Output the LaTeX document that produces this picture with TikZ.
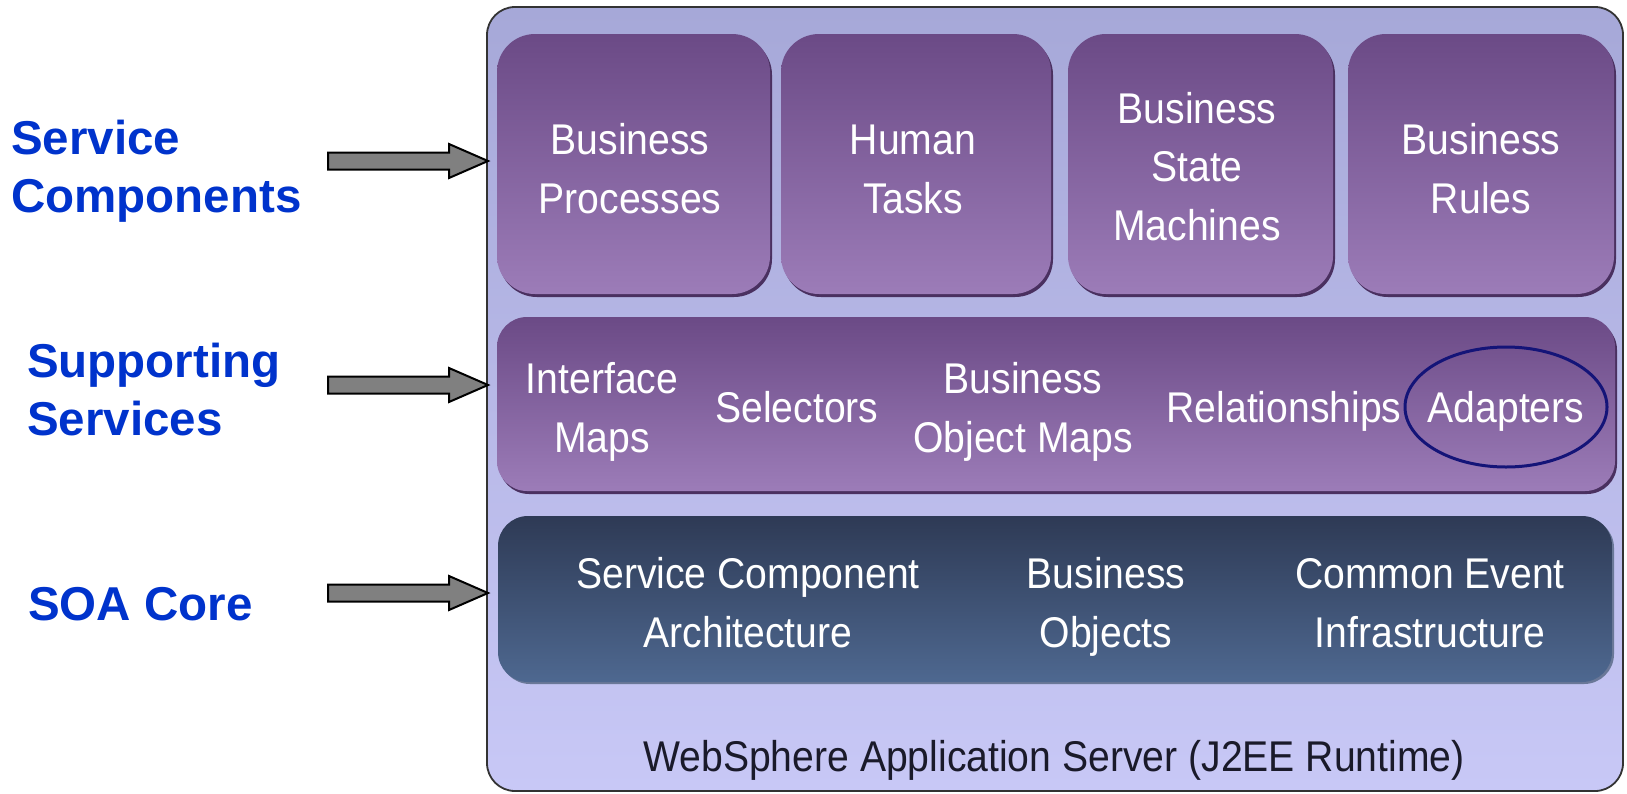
\documentclass[tikz,border=0pt]{standalone}
\usepackage{fontspec}
\setmainfont{Liberation Sans}
\newfontfamily\boxfont[FakeStretch=0.91]{Liberation Sans}
\definecolor{lblblue}{HTML}{0033CC}
\definecolor{arrowgray}{HTML}{808080}
\definecolor{outertop}{HTML}{A6A8D8}
\definecolor{outerbot}{HTML}{C8C8F6}
\definecolor{purtop}{HTML}{6B4A86}
\definecolor{purbot}{HTML}{9C7CB8}
\definecolor{purshadow}{HTML}{4A3060}
\definecolor{bluetop}{HTML}{2E3A55}
\definecolor{bluebot}{HTML}{4E6890}
\definecolor{blueshadow}{HTML}{6A7898}
\definecolor{ellcol}{HTML}{141478}
\definecolor{darktxt}{HTML}{1A1A2A}
\begin{document}
\begin{tikzpicture}[x=1pt,y=-1pt,
  boxtxt/.style={text=white, font=\boxfont\fontsize{43}{58.5}\selectfont, align=center, inner sep=0pt, anchor=base},
  lbl/.style={text=lblblue, font=\bfseries\fontsize{47.5}{57.5}\selectfont, align=left, anchor=base west, inner sep=0pt},
  blockarrow/.style={fill=arrowgray, draw=black, line width=2pt, line join=miter},
  purbox/.style={rounded corners=38pt, top color=purtop, bottom color=purbot},
  purshad/.style={rounded corners=38pt, fill=purshadow},
  bluebox/.style={rounded corners=30pt, top color=bluetop, bottom color=bluebot}]
\useasboundingbox (0,0) rectangle (1627,793);
% outer container
\shade[rounded corners=28pt, top color=outertop, bottom color=outerbot, draw=black!80, line width=1.8pt]
  (487,7) rectangle (1623,791);
% top boxes
\foreach \xa/\xb in {497/770, 781/1051, 1068/1333, 1348/1614}{
  \fill[purshad] (\xa+2,37) rectangle (\xb+2,297);
  \shade[purbox] (\xa,34) rectangle (\xb,294);
}
% middle bar
\fill[purshad, rounded corners=30pt] (499,320) rectangle (1617,494);
\shade[purbox, rounded corners=30pt] (497,317) rectangle (1615,491);
% bottom bar
\fill[blueshadow, rounded corners=30pt] (500,518) rectangle (1614,684);
\shade[bluebox] (498,516) rectangle (1612,682);

% top box texts (anchor = baseline of last line)
\node[boxtxt] (bp) at (630,213) {Business\\Processes};
\node[boxtxt] (ht) at (913,213) {Human\\Tasks};
\node[boxtxt] (bsm) at (1197,240) {Business\\State\\Machines};
\node[boxtxt] (br) at (1481,213) {Business\\Rules};
% middle texts
\node[boxtxt] (im) at (602,452) {Interface\\Maps};
\node[boxtxt] (sel) at (797,422) {Selectors};
\node[boxtxt] (bom) at (1023,452) {Business\\Object Maps};
\node[boxtxt] (rel) at (1284,422) {Relationships};
\node[boxtxt] (adp) at (1506,422) {Adapters};
\draw[ellcol, line width=3pt] (1506,407) ellipse [x radius=101, y radius=60];
% bottom texts
\node[boxtxt] (sca) at (748,647) {Service Component\\Architecture};
\node[boxtxt] (bo) at (1106,647) {Business\\Objects};
\node[boxtxt] (cei) at (1430,647) {Common Event\\Infrastructure};
% websphere
\node[boxtxt, text=darktxt] (was) at (1054,771) {WebSphere Application Server (J2EE Runtime)};

% left labels
\node[lbl] (sc) at (11,212) {Service\\Components};
\node[lbl] (ss) at (27,435) {Supporting\\Services};
\node[lbl] (soa) at (28,620) {SOA Core};

% arrows
\coordinate (a1) at (488,161);
\coordinate (a2) at (488,385);
\coordinate (a3) at (488,593);
\foreach \c in {a1,a2,a3}{
  \draw[blockarrow, shift={(\c)}] (-160,-8.5) -- (-39,-8.5) -- (-39,-17) -- (0,0) -- (-39,17) -- (-39,8.5) -- (-160,8.5) -- cycle;
}
\end{tikzpicture}
\end{document}
